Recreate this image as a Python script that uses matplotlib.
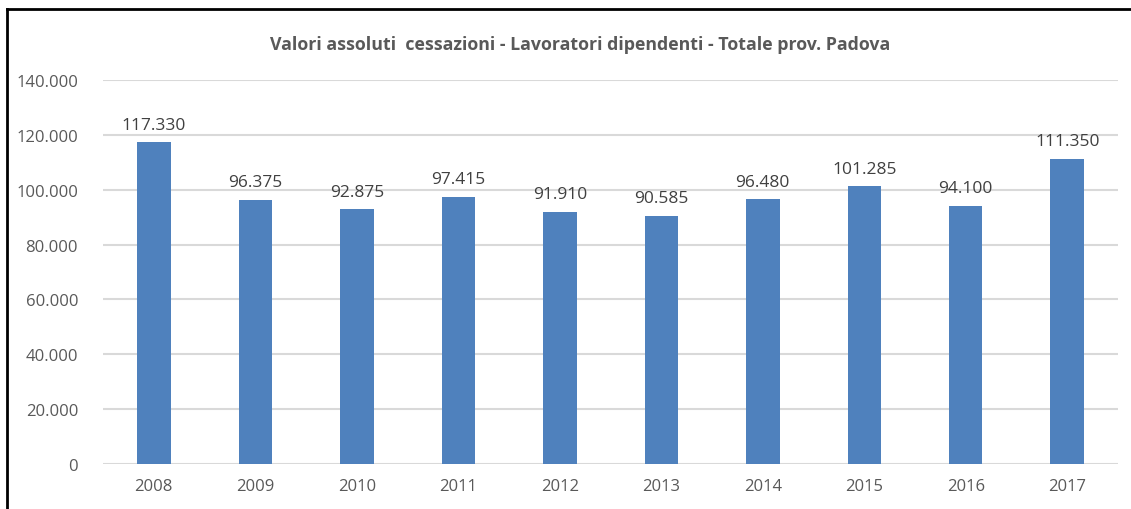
import matplotlib
matplotlib.use("Agg")
import matplotlib.pyplot as plt
from matplotlib.lines import Line2D
from matplotlib.ticker import FuncFormatter

years = ["2008", "2009", "2010", "2011", "2012", "2013", "2014", "2015", "2016", "2017"]
cessazioni = [117330, 96375, 92875, 97415, 91910, 90585, 96480, 101285, 94100, 111350]


def fmt_it(v, pos=None):
    # thousands separator with a dot, as in the original
    return f"{int(round(v)):,}".replace(",", ".")


plt.rcParams['font.family'] = ['Open Sans', 'DejaVu Sans']

fig = plt.figure(figsize=(11.31, 5.10), dpi=100)
ax = fig.add_axes([0.0911, 0.0882, 0.8974, 0.7530])

x = range(len(years))
ax.bar(x, cessazioni, width=0.33, color="#4F81BD", zorder=3)

for xi, v in zip(x, cessazioni):
    ax.text(xi, v + 3500, fmt_it(v), ha="center", va="bottom",
            fontsize=12.5, color="#404040")

ax.set_xlim(-0.5, len(years) - 0.5)
ax.set_ylim(0, 140000)
ax.set_yticks(range(0, 140001, 20000))
ax.yaxis.set_major_formatter(FuncFormatter(fmt_it))
ax.set_xticks(list(x))
ax.set_xticklabels(years)
ax.tick_params(axis="both", length=0, labelsize=12, labelcolor="#595959")
ax.tick_params(axis="x", pad=10)
ax.tick_params(axis="y", pad=18)
ax.grid(axis="y", color="#D9D9D9", linewidth=1.5, zorder=0)
for s in ax.spines.values():
    s.set_visible(False)

fig.text(0.513, 0.912, "Valori assoluti  cessazioni - Lavoratori dipendenti - Totale prov. Padova",
         ha="center", va="center", fontsize=12.8, fontweight="bold", color="#595959")

# border of the original screenshot (left and top only)
fig.add_artist(Line2D([0.0062, 0.0062], [0.0, 0.981], color="black", linewidth=2,
                      transform=fig.transFigure))
fig.add_artist(Line2D([0.0062, 1.0], [0.981, 0.981], color="black", linewidth=2,
                      transform=fig.transFigure))

fig.savefig("out.png", dpi=100)
